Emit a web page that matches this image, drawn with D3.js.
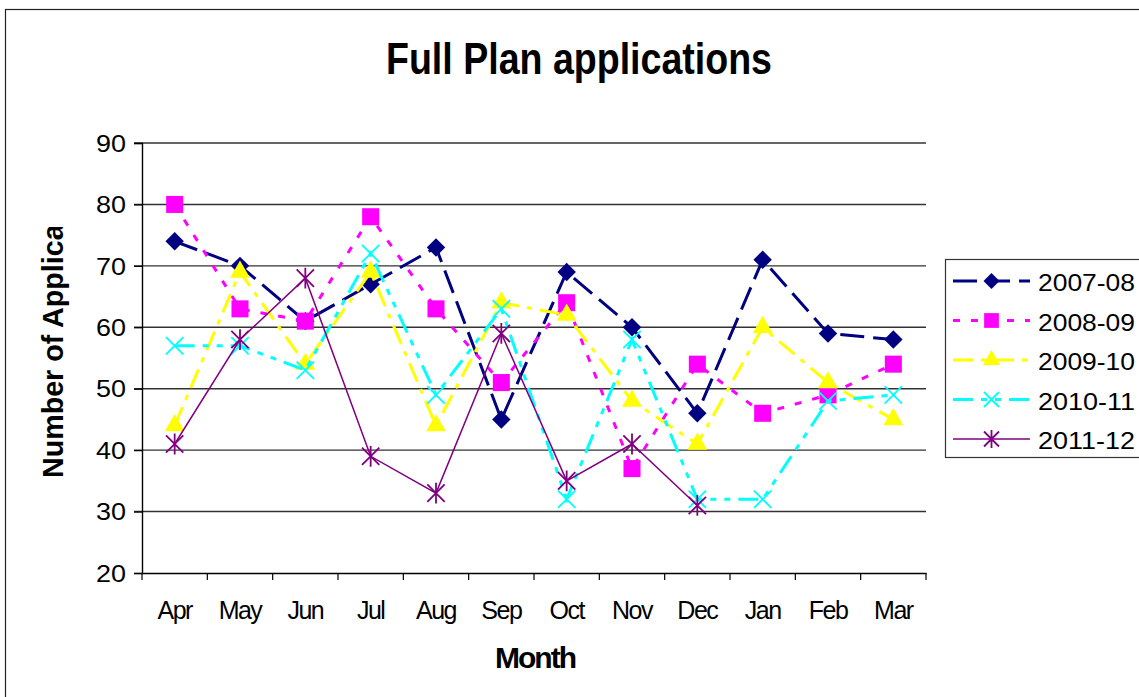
<!DOCTYPE html>
<html>
<head>
<meta charset="utf-8">
<script src="https://cdn.jsdelivr.net/npm/d3@7"></script>
<style>
  body { margin: 0; background: #fff; }
  svg { display: block; font-family: "Liberation Sans", Arial, sans-serif; }
</style>
</head>
<body>
<div class="chart"></div>
<script>
const months = ['Apr', 'May', 'Jun', 'Jul', 'Aug', 'Sep', 'Oct', 'Nov', 'Dec', 'Jan', 'Feb', 'Mar'];
const seriesNames = ['2007-08', '2008-09', '2009-10', '2010-11', '2011-12'];
const values0708 = [74, 70, 61, 67, 73, 45, 69, 60, 46, 71, 59, 58];
const values0809 = [80, 63, 61, 78, 63, 51, 64, 37, 54, 46, 49, 54];
const values0910 = [44, 69, 54, 69, 44, 64, 62, 48, 41, 60, 51, 45];
const values1011 = [57, 57, 53, 72, 49, 63, 32, 58, 32, 32, 48, 49];
const values1112 = [41, 58, 68, 39, 33, 59, 35, 41, 31, null, null, null];
const yTicks = [20, 30, 40, 50, 60, 70, 80, 90];

const allValues = [values0708, values0809, values0910, values1011, values1112];

// custom marker shapes
const symbolRhomb = {
  draw(ctx, size) {
    const r = Math.sqrt(size) / 2;
    ctx.moveTo(0, -r); ctx.lineTo(r, 0); ctx.lineTo(0, r); ctx.lineTo(-r, 0);
    ctx.closePath();
  }
};
const symbolCross = {
  draw(ctx, size) {
    const r = Math.sqrt(size) / 2;
    ctx.moveTo(-r, -r); ctx.lineTo(r, r);
    ctx.moveTo(r, -r); ctx.lineTo(-r, r);
  }
};
const symbolStar = {
  draw(ctx, size) {
    const r = Math.sqrt(size) / 2;
    ctx.moveTo(-r, -r); ctx.lineTo(r, r);
    ctx.moveTo(r, -r); ctx.lineTo(-r, r);
    ctx.moveTo(0, -r * 1.2); ctx.lineTo(0, r * 1.2);
  }
};

const styles = [
  { color: '#000080', dash: '24,9', width: 3, symbol: symbolRhomb, size: 340, fill: true },
  { color: '#FF00FF', dash: '7,11', width: 3, symbol: d3.symbolSquare, size: 290, fill: true },
  { color: '#FFFF00', dash: '20,8,5,8', width: 3, symbol: d3.symbolTriangle, size: 170, fill: true },
  { color: '#00FFFF', dash: '20,8,6,8,6,8', width: 3, symbol: symbolCross, size: 300, fill: false },
  { color: '#800080', dash: null, width: 1.5, symbol: symbolStar, size: 300, fill: false }
];

const W = 1139, H = 697;
const margin = { left: 142, top: 143, right: 926, bottom: 573 };

const svg = d3.select('.chart').append('svg').attr('width', W).attr('height', H);

// outer chart frame
svg.append('rect')
  .attr('x', 5.5).attr('y', 9.5).attr('width', 1150).attr('height', 710)
  .attr('fill', '#fff').attr('stroke', '#222').attr('stroke-width', 1.2);

const x = d3.scaleBand().domain(months).range([margin.left, margin.right]);
const y = d3.scaleLinear().domain([20, 90]).range([margin.bottom, margin.top]);

// gridlines
svg.append('g')
  .selectAll('line')
  .data(yTicks.slice(1))
  .join('line')
  .attr('x1', margin.left - 8).attr('x2', margin.right)
  .attr('y1', d => y(d)).attr('y2', d => y(d))
  .attr('stroke', '#333').attr('stroke-width', 1.4);

// y axis
const yAxis = d3.axisLeft(y).tickValues(yTicks).tickSize(8).tickFormat(d3.format('d'));
const yAxisGroup = svg.append('g').attr('transform', `translate(${margin.left},0)`).call(yAxis);
yAxisGroup.select('.domain').attr('stroke', '#000').attr('stroke-width', 1.4);
yAxisGroup.selectAll('.tick line').attr('stroke', '#000').attr('stroke-width', 1.2);
yAxisGroup.selectAll('.tick text')
  .attr('x', -16).attr('dy', '0.36em')
  .attr('font-size', 23).attr('fill', '#000')
  .attr('font-family', '"Liberation Sans", Arial, sans-serif')
  .attr('textLength', 30).attr('lengthAdjust', 'spacingAndGlyphs');

// x axis
const xAxis = d3.axisBottom(x).tickSize(0).tickSizeOuter(0);
const xAxisGroup = svg.append('g').attr('transform', `translate(0,${margin.bottom})`).call(xAxis);
xAxisGroup.select('.domain').attr('stroke', '#000').attr('stroke-width', 1.4);
xAxisGroup.selectAll('.tick text')
  .attr('y', 46).attr('dy', 0)
  .attr('font-size', 25).attr('letter-spacing', -1.5).attr('fill', '#000')
  .attr('font-family', '"Liberation Sans", Arial, sans-serif');

// category boundary ticks
svg.append('g')
  .selectAll('line')
  .data(months.concat(['end']))
  .join('line')
  .attr('x1', (d, i) => i < months.length ? x(d) : margin.right)
  .attr('x2', (d, i) => i < months.length ? x(d) : margin.right)
  .attr('y1', margin.bottom).attr('y2', margin.bottom + 7)
  .attr('stroke', '#000').attr('stroke-width', 1.2);

// series
const cx = d => x(d) + x.bandwidth() / 2;
const line = d3.line()
  .defined(d => d.v !== null)
  .x(d => cx(d.m))
  .y(d => y(d.v));

allValues.forEach((vals, i) => {
  const st = styles[i];
  const pts = months.map((m, j) => ({ m, v: vals[j] }));
  const g = svg.append('g');
  g.append('path')
    .datum(pts)
    .attr('d', line)
    .attr('fill', 'none')
    .attr('stroke', st.color)
    .attr('stroke-width', st.width)
    .attr('stroke-dasharray', st.dash);
  g.selectAll('path.marker')
    .data(pts.filter(d => d.v !== null))
    .join('path')
    .attr('class', 'marker')
    .attr('transform', d => `translate(${cx(d.m)},${y(d.v)})`)
    .attr('d', d3.symbol().type(st.symbol).size(st.size))
    .attr('fill', st.fill ? st.color : 'none')
    .attr('stroke', st.color)
    .attr('stroke-width', st.fill ? 0 : 1.8);
});

// title
svg.append('text')
  .attr('x', 386).attr('y', 74)
  .attr('font-size', 44).attr('font-weight', 'bold')
  .attr('textLength', 386).attr('lengthAdjust', 'spacingAndGlyphs')
  .text('Full Plan applications');

// axis titles
svg.append('text')
  .attr('x', 535).attr('y', 668)
  .attr('text-anchor', 'middle')
  .attr('font-size', 30).attr('font-weight', 'bold').attr('letter-spacing', -2)
  .text('Month');

svg.append('clipPath').attr('id', 'ylabel-clip')
  .append('rect').attr('x', 0).attr('y', 227).attr('width', 130).attr('height', 400);

svg.append('g')
  .attr('clip-path', 'url(#ylabel-clip)')
  .append('text')
  .attr('transform', 'translate(63,478) rotate(-90)')
  .attr('font-size', 30).attr('font-weight', 'bold')
  .attr('textLength', 322).attr('lengthAdjust', 'spacingAndGlyphs')
  .text('Number of Applications');

// legend
const legend = svg.append('g');
legend.append('rect')
  .attr('x', 945.5).attr('y', 259.5).attr('width', 210).attr('height', 198)
  .attr('fill', '#fff').attr('stroke', '#333').attr('stroke-width', 1.2);

const legendItems = legend.selectAll('g.item')
  .data(seriesNames)
  .join('g')
  .attr('class', 'item')
  .attr('transform', (d, i) => `translate(0,${281 + i * 39.5})`);

legendItems.append('line')
  .attr('x1', 953).attr('x2', 1030).attr('y1', 0).attr('y2', 0)
  .attr('stroke', (d, i) => styles[i].color)
  .attr('stroke-width', (d, i) => styles[i].width)
  .attr('stroke-dasharray', (d, i) => styles[i].dash);

legendItems.append('path')
  .attr('transform', 'translate(991.5,0)')
  .attr('d', (d, i) => d3.symbol().type(styles[i].symbol).size(styles[i].size * 0.75)())
  .attr('fill', (d, i) => styles[i].fill ? styles[i].color : 'none')
  .attr('stroke', (d, i) => styles[i].color)
  .attr('stroke-width', (d, i) => styles[i].fill ? 0 : 1.8);

legendItems.append('text')
  .attr('x', 1038).attr('y', 10)
  .attr('font-size', 23)
  .attr('textLength', 97).attr('lengthAdjust', 'spacingAndGlyphs')
  .text(d => d);
</script>
</body>
</html>
